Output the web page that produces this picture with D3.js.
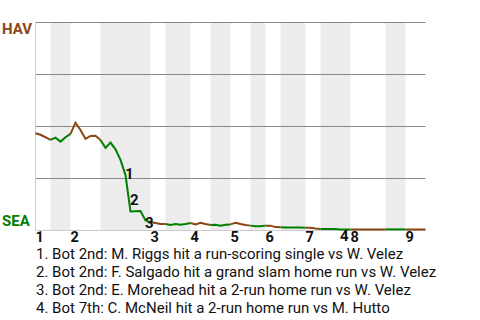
<!DOCTYPE html>
<html>
<head>
<meta charset="utf-8">
<script src="https://cdn.jsdelivr.net/npm/d3@7"></script>
<style>
  body { margin: 0; background: #fff; }
  svg { display: block; font-family: Roboto, "Noto Sans", sans-serif; }
</style>
</head>
<body>
<div id="chart"></div>
<script>
// teams (away on top, home on bottom)
const awayTeam = "HAV";
const homeTeam = "SEA";

// inning labels along the bottom
const innings = ["1", "2", "3", "4", "5", "6", "7", "8", "9"];

// plate appearances in each half inning (top 1, bot 1, top 2, ...)
const halfInningPA = [3, 4, 6, 10, 3, 5, 4, 4, 4, 3, 3, 5, 3, 6, 7, 4, 4];

// away team win probability (%) after each plate appearance
const awayWinProb = [
    46.5, 45.8, 44.6, 43.3, 44.4, 42.5, 44.6, 46.2, 51.6, 48.1,
    43.8, 45.2, 45.3, 43.3, 39.5, 42.0, 38.8, 33.7, 26.4, 8.9,
    9.0, 9.1, 4.6, 3.8, 3.4, 2.9, 2.9, 2.4, 2.9, 2.5,
    2.9, 3.4, 2.7, 3.5, 2.9, 2.4, 2.5, 2.1, 2.5, 2.7,
    3.5, 2.9, 2.4, 2.1, 1.8, 1.8, 2.1, 2.1, 1.4, 1.3,
    1.2, 1.2, 1.2, 1.2, 1.1, 1.1, 0.7, 0.5, 0.5, 0.5,
    0.5, 0.3, 0.3, 0.3, 0.3, 0.3, 0.3, 0.3, 0.3, 0.3,
    0.3, 0.3, 0.3, 0.3, 0.3, 0.3, 0.3, 0.3, 0.2
];

// key events: plate appearance index and description
const eventIndex = [18, 19, 22, 61];
const eventText = [
    "Bot 2nd: M. Riggs hit a run-scoring single vs W. Velez",
    "Bot 2nd: F. Salgado hit a grand slam home run vs W. Velez",
    "Bot 2nd: E. Morehead hit a 2-run home run vs W. Velez",
    "Bot 7th: C. McNeil hit a 2-run home run vs M. Hutto"
];

const gridValues = [100, 75, 50, 25];

// colors
const awayColor = "#8b4513";
const homeColor = "#008000";

// svg set up
let svgWidth = 480;
let svgHeight = 320;
let margin = { top: 22, bottom: 90, left: 35.5, right: 54.5 };
let width = svgWidth - margin.left - margin.right;
let height = svgHeight - margin.top - margin.bottom;

let svg = d3.select("#chart")
    .append("svg")
    .attr("width", svgWidth)
    .attr("height", svgHeight);

let chartGroup = svg.append("g")
    .attr("transform", `translate(${margin.left},${margin.top})`);

// half inning boundaries in plate appearance units
let bounds = [0];
halfInningPA.forEach(n => bounds.push(bounds[bounds.length - 1] + n));
let totalPA = bounds[bounds.length - 1];

let xScale = d3.scaleLinear().domain([0, totalPA]).range([0, width]);
let yScale = d3.scaleLinear().domain([0, 100]).range([height, 0]);

// shaded bottom halves
chartGroup.selectAll("rect.band")
    .data(d3.range(1, halfInningPA.length, 2))
    .enter()
    .append("rect")
    .attr("class", "band")
    .attr("x", h => xScale(bounds[h]))
    .attr("y", 0)
    .attr("width", h => xScale(bounds[h + 1]) - xScale(bounds[h]))
    .attr("height", height)
    .attr("fill", "#ececec");

// horizontal grid lines
chartGroup.selectAll("line.grid")
    .data(gridValues)
    .enter()
    .append("line")
    .attr("x1", 0)
    .attr("x2", width)
    .attr("y1", d => Math.round(yScale(d)) + 0.5)
    .attr("y2", d => Math.round(yScale(d)) + 0.5)
    .attr("stroke", "#888")
    .attr("stroke-width", 1);

// axis lines
chartGroup.append("line")
    .attr("x1", 0).attr("x2", width)
    .attr("y1", height + 0.5).attr("y2", height + 0.5)
    .attr("stroke", "#ccc");
chartGroup.append("line")
    .attr("x1", 0).attr("x2", 0)
    .attr("y1", 0).attr("y2", height)
    .attr("stroke", "#ccc");

// win probability line, one path per half inning
let line = d3.line()
    .x(i => xScale(i))
    .y(i => yScale(awayWinProb[i]));

chartGroup.selectAll("path.wp")
    .data(d3.range(halfInningPA.length))
    .enter()
    .append("path")
    .attr("class", "wp")
    .attr("d", h => line(d3.range(bounds[h], bounds[h + 1] + 1)))
    .attr("fill", "none")
    .attr("stroke", h => h % 2 === 0 ? awayColor : homeColor)
    .attr("stroke-width", 2);

// event markers at the middle of the event segment
chartGroup.selectAll("text.event")
    .data(eventIndex)
    .enter()
    .append("text")
    .attr("class", "event")
    .attr("x", i => xScale(i - 0.5) + 2)
    .attr("y", i => (yScale(awayWinProb[i - 1]) + yScale(awayWinProb[i])) / 2 + 12)
    .attr("font-size", "15px")
    .attr("font-weight", "bold")
    .attr("fill", "#111")
    .text((d, k) => k + 1);

// inning labels
chartGroup.selectAll("text.inning")
    .data(innings)
    .enter()
    .append("text")
    .attr("class", "inning")
    .attr("x", (d, k) => xScale(bounds[k * 2]))
    .attr("y", height + 12)
    .attr("font-size", "14.5px")
    .attr("font-weight", "bold")
    .attr("fill", "#111")
    .text(d => d);

// team labels
svg.append("text")
    .attr("x", 2)
    .attr("y", margin.top + 12)
    .attr("font-size", "15px")
    .attr("font-weight", "bold")
    .attr("fill", awayColor)
    .text(awayTeam);
svg.append("text")
    .attr("x", 2)
    .attr("y", margin.top + height - 4)
    .attr("font-size", "15px")
    .attr("font-weight", "bold")
    .attr("fill", homeColor)
    .text(homeTeam);

// event descriptions
svg.selectAll("text.desc")
    .data(eventText)
    .enter()
    .append("text")
    .attr("class", "desc")
    .attr("x", 36)
    .attr("y", (d, k) => 258.5 + k * 18)
    .attr("font-size", "15px")
    .attr("fill", "#111")
    .text((d, k) => `${k + 1}. ${d}`);
</script>
</body>
</html>
